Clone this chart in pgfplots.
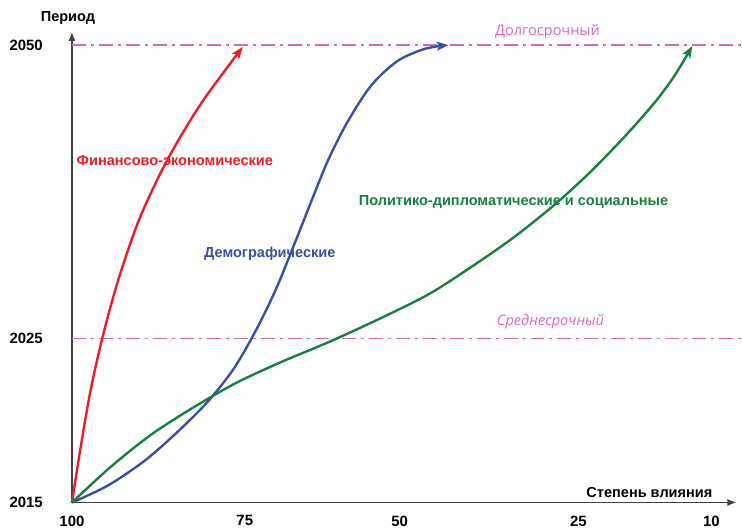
\documentclass[border=0pt]{standalone}
\usepackage{pgfplots}
\pgfplotsset{compat=1.18}
\usepackage{fontspec}
\setmainfont{Liberation Sans}
\newfontfamily\lightfont{Open Sans}
\usetikzlibrary{arrows.meta}

\definecolor{cred}{RGB}{237,29,36}
\definecolor{cblue}{RGB}{58,79,163}
\definecolor{cgreen}{RGB}{22,128,64}
\definecolor{cpink}{RGB}{214,104,184}

\begin{document}
\begin{tikzpicture}
\begin{axis}[
  x=1bp, y=1bp,
  scale only axis,
  xmin=72, xmax=737, ymin=28, ymax=499,
  axis lines=left,
  clip=false,
  axis line style={line width=1.2bp, draw=black!75},
  every outer x axis line/.append style={-{Latex[length=9bp,width=7bp]}},
  every outer y axis line/.append style={-{Latex[length=9bp,width=7bp]}},
  xtick={72,245,400,579,712}, xticklabels={100,75,50,25,10},
  ytick={28,192,486}, yticklabels={2015,2025,2050},
  major tick length=0pt,
  tick label style={font=\bfseries\fontsize{15}{15}\selectfont, text=black, inner sep=0pt},
  xticklabel style={anchor=north, yshift=-13bp},
  yticklabel style={anchor=east, xshift=-29bp},
  every axis x label/.style={at={(axis cs:650,38)}, anchor=center, font=\bfseries\fontsize{14.6}{15}\selectfont},
  every axis y label/.style={at={(axis cs:68,513)}, anchor=center, font=\bfseries\fontsize{14.6}{15}\selectfont},
  xlabel={Степень влияния},
  ylabel={Период},
]
% horizon lines
\addplot[cpink, line width=1.4bp, dash pattern=on 14bp off 5bp on 3bp off 5bp]
  coordinates {(72,486) (742,486)};
\addplot[cpink, line width=1.4bp, dash pattern=on 14bp off 5bp on 3bp off 5bp]
  coordinates {(72,192) (742,192)};

% red
\addplot[cred, line width=2.4bp, smooth, -{Stealth[length=12bp,width=9bp,inset=3bp]}]
  coordinates {(72,28) (81,85) (91,142) (104,199) (120,256) (140,313) (167,370) (201,427) (243,484)};
% blue
\addplot[cblue, line width=2.4bp, smooth, -{Stealth[length=12bp,width=9bp,inset=3bp]}]
  coordinates {(72,28) (108,45) (145,70) (178,99) (208,129) (234,162) (256,200) (276,241) (294,285) (311,328) (329,372) (349,411) (372,446) (398,470) (425,482) (449,486)};
% green
\addplot[cgreen, line width=2.4bp, smooth, -{Stealth[length=12bp,width=9bp,inset=3bp]}]
  coordinates {(72,28) (110,63) (150,95) (190,121) (235,147) (280,168) (330,189) (380,212) (430,237) (475,266) (515,294) (555,326) (590,358) (625,394) (655,428) (675,455) (693,485)};

\node[text=cred, font=\bfseries\fontsize{14.6}{15}\selectfont] at (axis cs:175,370) {Финансово-экономические};
\node[text=cblue, font=\bfseries\fontsize{14.6}{15}\selectfont] at (axis cs:270,277) {Демографические};
\node[text=cgreen, font=\bfseries\fontsize{14.6}{15}\selectfont] at (axis cs:514,329) {Политико-дипломатические и социальные};
\node[text=cpink, font=\lightfont\fontsize{14.6}{15}\selectfont] at (axis cs:548,499) {Долгосрочный};
\node[text=cpink, font=\lightfont\itshape\fontsize{14.6}{15}\selectfont] at (axis cs:551,209) {Среднесрочный};

\path (axis cs:0,0) (axis cs:742,531);
\end{axis}
\end{tikzpicture}
\end{document}
